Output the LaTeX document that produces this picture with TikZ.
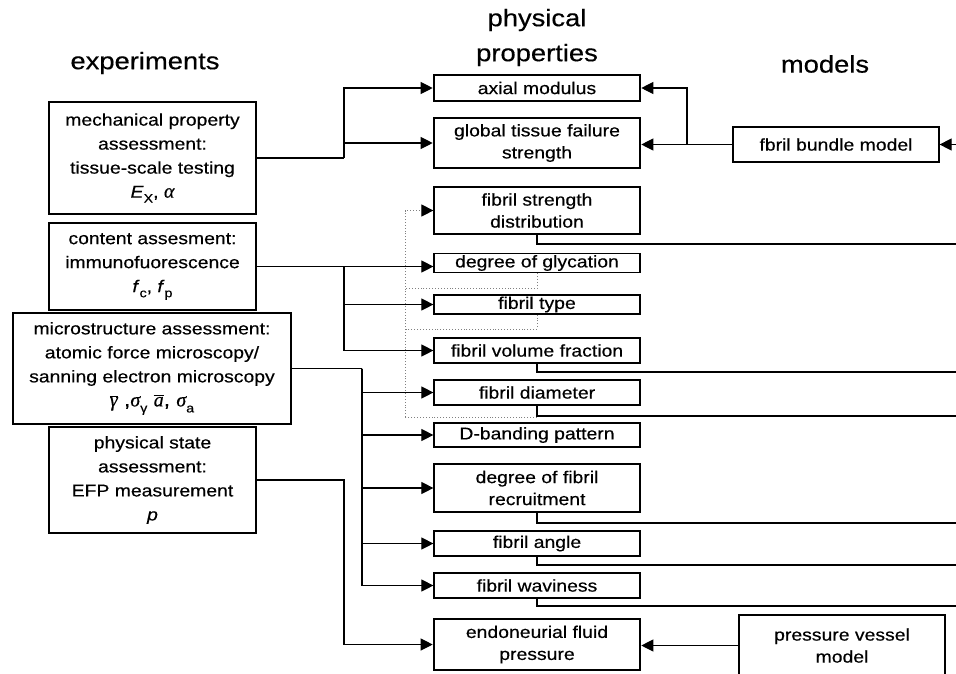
\documentclass[tikz,border=0pt]{standalone}
\usepackage{fontspec}
\setmainfont[FakeStretch=1.14,FakeBold=0.4]{Liberation Sans}
\newfontfamily\grk[FakeBold=0.3]{Liberation Serif}
\usetikzlibrary{arrows.meta}
\newcommand\lowsub[1]{\raisebox{-0.3em}{\fontsize{12.5}{12.5}\selectfont #1}}
\newcommand\gi[1]{{\grk\itshape #1}}
\newcommand\gbar[1]{$\overline{\hbox{\gi{#1}}}$}
\begin{document}
\begin{tikzpicture}[x=1pt,y=-1pt,
  box/.style={draw, line width=1.2pt, align=center, inner sep=0pt, font=\fontsize{17}{22}\selectfont},
  lbox/.style={box, font=\fontsize{17}{24}\selectfont},
  thickbox/.style={box, line width=2.6pt},
  conn/.style={line width=1.1pt},
  arr/.style={conn, -{Triangle[length=12pt,width=12pt]}},
  dotl/.style={draw=gray, line width=0.9pt, dotted},
  hdr/.style={font=\fontsize{24}{28}\selectfont, inner sep=0pt}]
\useasboundingbox (0,0) rectangle (956,673);
\fill[white] (0,0) rectangle (956,673);
\clip (0,0) rectangle (956,673);

% headers
\node[hdr] (h1) at (145,63) {experiments};
\node[hdr] (h2a) at (537,20) {physical};
\node[hdr] (h2b) at (537,55) {properties};
\node[hdr] (h3) at (825,64) {models};

% experiments
\node[lbox, minimum width=207pt, minimum height=112pt] (m1) at (152.5,158)
  {mechanical property\\assessment:\\tissue-scale testing\\\textit{E}\lowsub{X}, {\fontsize{20}{24}\selectfont\gi{α}}};
\node[lbox, minimum width=207pt, minimum height=87pt] (m2) at (152.5,266.5)
  {content assesment:\\immunofuorescence\\\textit{f}\lowsub{c}, \textit{f}\lowsub{p}};
\node[lbox, minimum width=278pt, minimum height=111pt] (m3) at (152,368.5)
  {microstructure assessment:\\atomic force microscopy/\\sanning electron microscopy\\{\fontsize{20}{24}\selectfont\gbar{γ} ,\gi{σ}\lowsub{γ} \gbar{a}, \gi{σ}\lowsub{a}}};
\node[lbox, minimum width=207pt, minimum height=106pt] (m4) at (152.5,480)
  {physical state\\assessment:\\EFP measurement\\\textit{p}};

% physical properties
\node[thickbox, minimum width=206pt, minimum height=26pt] (axial) at (537,88) {axial modulus};
\node[thickbox, minimum width=206pt, minimum height=50pt] (global) at (537,143) {global tissue failure\\strength};
\node[box, minimum width=206pt, minimum height=47pt] (fsd) at (537,210.5) {fibril strength\\distribution};
\node[box, minimum width=206pt, minimum height=19pt] (glyc) at (537,263) {degree of glycation};
\node[box, minimum width=206pt, minimum height=19pt] (type) at (537,304.5) {fibril type};
\node[box, minimum width=206pt, minimum height=25pt] (fvf) at (537,350.5) {fibril volume fraction};
\node[box, minimum width=206pt, minimum height=25pt] (diam) at (537,392.5) {fibril diameter};
\node[box, minimum width=206pt, minimum height=24pt] (dband) at (537,435) {D-banding pattern};
\node[box, minimum width=206pt, minimum height=48pt] (recr) at (537,488) {degree of fibril\\recruitment};
\node[box, minimum width=206pt, minimum height=25pt] (angle) at (537,543.5) {fibril angle};
\node[box, minimum width=206pt, minimum height=25pt] (wav) at (537,585.5) {fibril waviness};
\node[thickbox, minimum width=206pt, minimum height=51pt] (efp) at (537,644.5) {endoneurial fluid\\pressure};

% models
\node[box, minimum width=206pt, minimum height=35pt] (bundle) at (836,144.5) {fbril bundle model};
\node[box, minimum width=206pt, minimum height=61pt] (vessel) at (842,645.5) {pressure vessel\\model};

% junctions
\coordinate (j1) at (344,158);
\coordinate (j2) at (344,266.5);
\coordinate (j3) at (362,368.5);
\coordinate (j4) at (344,480);
\coordinate (jb) at (687,144.5);
\coordinate (rb) at (956,144.5);
\coordinate (dA) at (405,210.5);
\coordinate (dB) at (405,417);
\coordinate (g1) at (405,288);
\coordinate (t1) at (405,329);
\coordinate (r1) at (956,244);
\coordinate (r2) at (956,372);
\coordinate (r3) at (956,416);
\coordinate (r4) at (956,523);
\coordinate (r5) at (956,565);
\coordinate (r6) at (956,606);

% dotted feedback into fibril strength distribution
\draw[dotl] (glyc.south) |- (g1);
\draw[dotl] (type.south) |- (t1);
\draw[dotl] (diam.south) |- (dB);
\draw[dotl, -{Triangle[length=12pt,width=12pt,color=black]}] (dB) -- (dA) -- (dA -| fsd.west);

% experiment connectors
\draw[conn] (m1.east) -- (j1);
\draw[arr] (j1) |- (axial.west);
\draw[arr] (j1) |- (global.west);

\draw[arr] (m2.east) -- (m2.east -| glyc.west);
\draw[arr] (j2) |- (type.west);
\draw[arr] (j2) |- (fvf.west);

\draw[conn] (m3.east) -- (j3);
\draw[arr] (j3) |- (diam.west);
\draw[arr] (j3) |- (dband.west);
\draw[arr] (j3) |- (recr.west);
\draw[arr] (j3) |- (angle.west);
\draw[arr] (j3) |- (wav.west);

\draw[arr] (m4.east) -- (j4) |- (efp.west);

% model connectors
\draw[conn] (bundle.west) -- (jb);
\draw[arr] (jb) |- (axial.east);
\draw[arr] (jb) -- (jb -| global.east);
\draw[arr] (rb) -- (bundle.east);
\draw[arr] (vessel.west) -- (vessel.west -| efp.east);

% outputs to the right
\draw[conn] (fsd.south) |- (r1);
\draw[conn] (fvf.south) |- (r2);
\draw[conn] (diam.south) |- (r3);
\draw[conn] (recr.south) |- (r4);
\draw[conn] (angle.south) |- (r5);
\draw[conn] (wav.south) |- (r6);
\end{tikzpicture}
\end{document}
